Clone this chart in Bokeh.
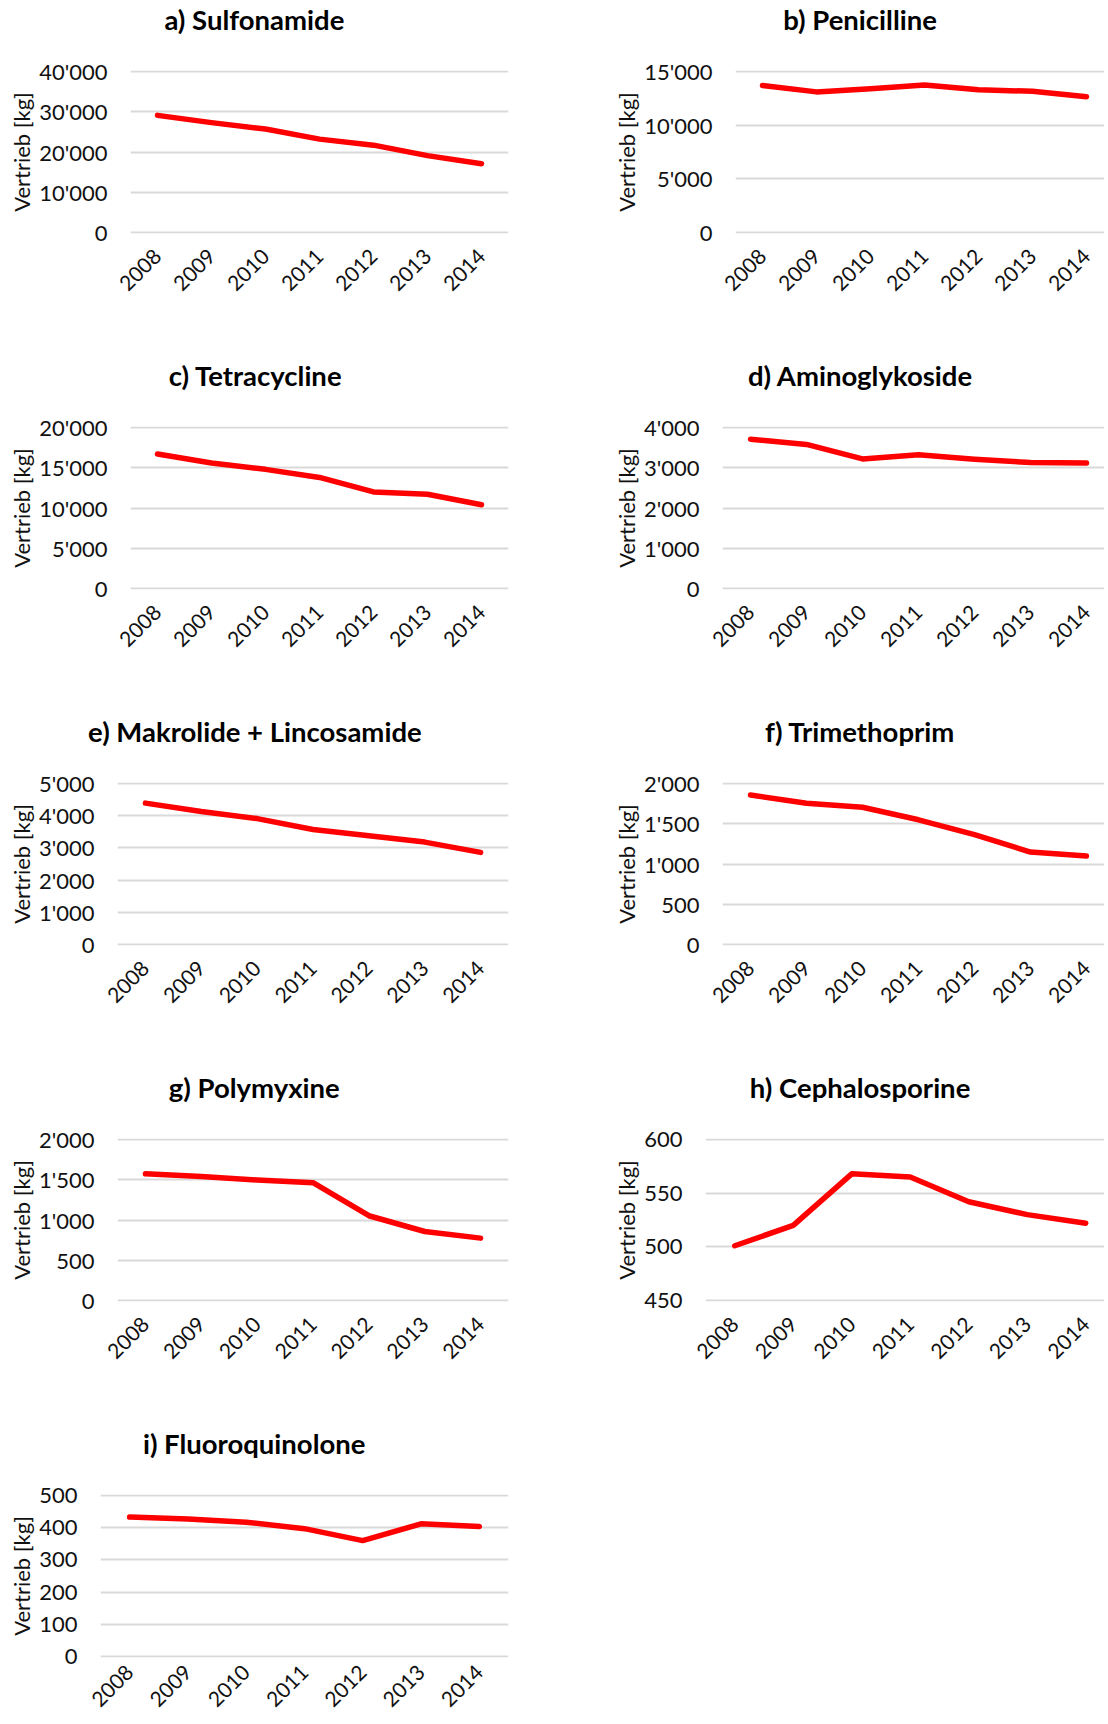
import math
from bokeh.plotting import figure
from bokeh.layouts import column, row
from bokeh.models import Range1d, FixedTicker, Title
from bokeh.embed import file_html
from bokeh.resources import INLINE

# ---------------- data ----------------
years = ["2008", "2009", "2010", "2011", "2012", "2013", "2014"]

titles = ["a) Sulfonamide", "b) Penicilline", "c) Tetracycline", "d) Aminoglykoside",
          "e) Makrolide + Lincosamide", "f) Trimethoprim", "g) Polymyxine",
          "h) Cephalosporine", "i) Fluoroquinolone"]

sulfonamide = [29100, 27300, 25700, 23200, 21700, 19100, 17100]
penicilline = [13700, 13100, 13400, 13750, 13300, 13150, 12650]
tetracycline = [16700, 15600, 14800, 13800, 12000, 11700, 10400]
aminoglykoside = [3710, 3580, 3220, 3320, 3210, 3130, 3120]
makrolide = [4390, 4130, 3910, 3570, 3380, 3180, 2860]
trimethoprim = [1857, 1754, 1705, 1549, 1365, 1148, 1098]
polymyxine = [1574, 1541, 1496, 1463, 1053, 857, 775]
cephalosporine = [501, 520, 568, 565, 542, 530, 522]
fluoroquinolone = [433, 427, 417, 397, 360, 412, 404]

series = [sulfonamide, penicilline, tetracycline, aminoglykoside, makrolide,
          trimethoprim, polymyxine, cephalosporine, fluoroquinolone]

yticks = [
    [0, 10000, 20000, 30000, 40000],
    [0, 5000, 10000, 15000],
    [0, 5000, 10000, 15000, 20000],
    [0, 1000, 2000, 3000, 4000],
    [0, 1000, 2000, 3000, 4000, 5000],
    [0, 500, 1000, 1500, 2000],
    [0, 500, 1000, 1500, 2000],
    [450, 500, 550, 600],
    [0, 100, 200, 300, 400, 500],
]

y_label = "Vertrieb [kg]"

# ---------------- layout (pixel geometry) ----------------
COL_W = [554, 550]
ROW_H = [356, 356, 356, 356, 296]
FRAME_TOP = 70
FRAME_H = 163
frame_left = [130, 735, 130, 722, 117, 722, 117, 705, 100.5]
band_px = [54, 54, 54, 56, 55.86, 56, 55.86, 58.5, 58.2]
title_cx = [254, 859]
ylab_cx = [21, 626]
# measured title text widths at 24px (used to centre the titles)
title_w24 = [157.3, 133.1, 149.6, 194.8, 290.5, 165.1, 149.6, 191.5, 194.8]

FONT = "Lato"
TXT = "#111111"
GRID = "#D9D9D9"
RED = "#FF0000"
TICK_FS = 22
XTICK_FS = 21
LAB_FS = 22
TITLE_FS = 27.5
TICK_STANDOFF = 23


def fmt(v):
    return f"{v:,}".replace(",", "'")


def label_width(s, fs):
    return sum(0.18 * fs if ch == "'" else 0.58 * fs for ch in s)


figs = []
for i, (title, vals, ticks) in enumerate(zip(titles, series, yticks)):
    col = i % 2
    r = i // 2
    W = COL_W[col]
    H = ROW_H[r]
    x0 = 0 if col == 0 else COL_W[0]
    L = frame_left[i]
    R = 508 if col == 0 else x0 + W
    band = band_px[i]
    x_end = -0.5 + (R - L) / band

    mb_left = round(L - x0)
    mb_right = round(x0 + W - R)

    ymin, ymax = ticks[0], ticks[-1]
    pad = (ymax - ymin) / FRAME_H * 1.0

    p = figure(width=W, height=H, output_backend="svg", toolbar_location=None,
               title=None,
               x_range=Range1d(-0.5, x_end), y_range=Range1d(ymin - pad, ymax + pad),
               min_border_left=mb_left, min_border_right=mb_right,
               min_border_top=FRAME_TOP, min_border_bottom=H - FRAME_TOP - FRAME_H)
    p.outline_line_color = None
    p.background_fill_color = "white"
    p.border_fill_color = "white"

    xs = list(range(len(years)))
    p.line(xs, vals, line_color=RED, line_width=5.5, line_join="round", line_cap="round")

    p.xaxis.ticker = FixedTicker(ticks=xs)
    p.xaxis.major_label_overrides = {k: y for k, y in zip(xs, years)}
    p.xaxis.major_label_orientation = math.pi / 4
    p.xaxis.major_label_standoff = 19 if r < 4 else 11
    p.yaxis.ticker = FixedTicker(ticks=ticks)
    p.yaxis.major_label_overrides = {t: fmt(t) for t in ticks}
    p.yaxis.major_label_standoff = TICK_STANDOFF
    for ax in (p.xaxis, p.yaxis):
        ax.axis_line_color = None
        ax.major_tick_line_color = None
        ax.minor_tick_line_color = None
        ax.major_tick_out = 0
        ax.major_label_text_font = FONT
        ax.major_label_text_color = TXT
    p.yaxis.major_label_text_font_size = f"{TICK_FS}px"
    p.xaxis.major_label_text_font_size = f"{XTICK_FS}px"
    p.xgrid.grid_line_color = None
    p.ygrid.grid_line_color = GRID
    p.ygrid.grid_line_width = 2
    p.ygrid.ticker = FixedTicker(ticks=ticks)

    # y axis label at a fixed distance from the figure's left edge
    tw = max(label_width(fmt(t), TICK_FS) for t in ticks)
    label_center = ylab_cx[col] - x0
    als = mb_left - TICK_STANDOFF - tw - 17 - label_center
    p.yaxis.axis_label = y_label
    p.yaxis.axis_label_text_font = FONT
    p.yaxis.axis_label_text_font_size = f"{LAB_FS}px"
    p.yaxis.axis_label_text_font_style = "normal"
    p.yaxis.axis_label_text_color = TXT
    p.yaxis.axis_label_standoff = max(0, round(als))

    # spacer (nearest the frame) then the real title on top
    p.add_layout(Title(text=" ", text_font=FONT, text_font_size="10px",
                       standoff=19), "above")
    tw_title = title_w24[i] * TITLE_FS / 24
    off = (title_cx[col] - x0) - tw_title / 2 - mb_left
    p.add_layout(Title(text=title, align="left", offset=off, vertical_align="top",
                       text_font=FONT, text_font_style="bold",
                       text_font_size=f"{TITLE_FS}px", text_color="#000000",
                       standoff=0), "above")
    figs.append(p)

rows = [row(figs[k], figs[k + 1]) if k + 1 < len(figs) else row(figs[k])
        for k in range(0, len(figs), 2)]
layout = column(*rows)

open("out.html", "w").write(file_html(layout, INLINE))
